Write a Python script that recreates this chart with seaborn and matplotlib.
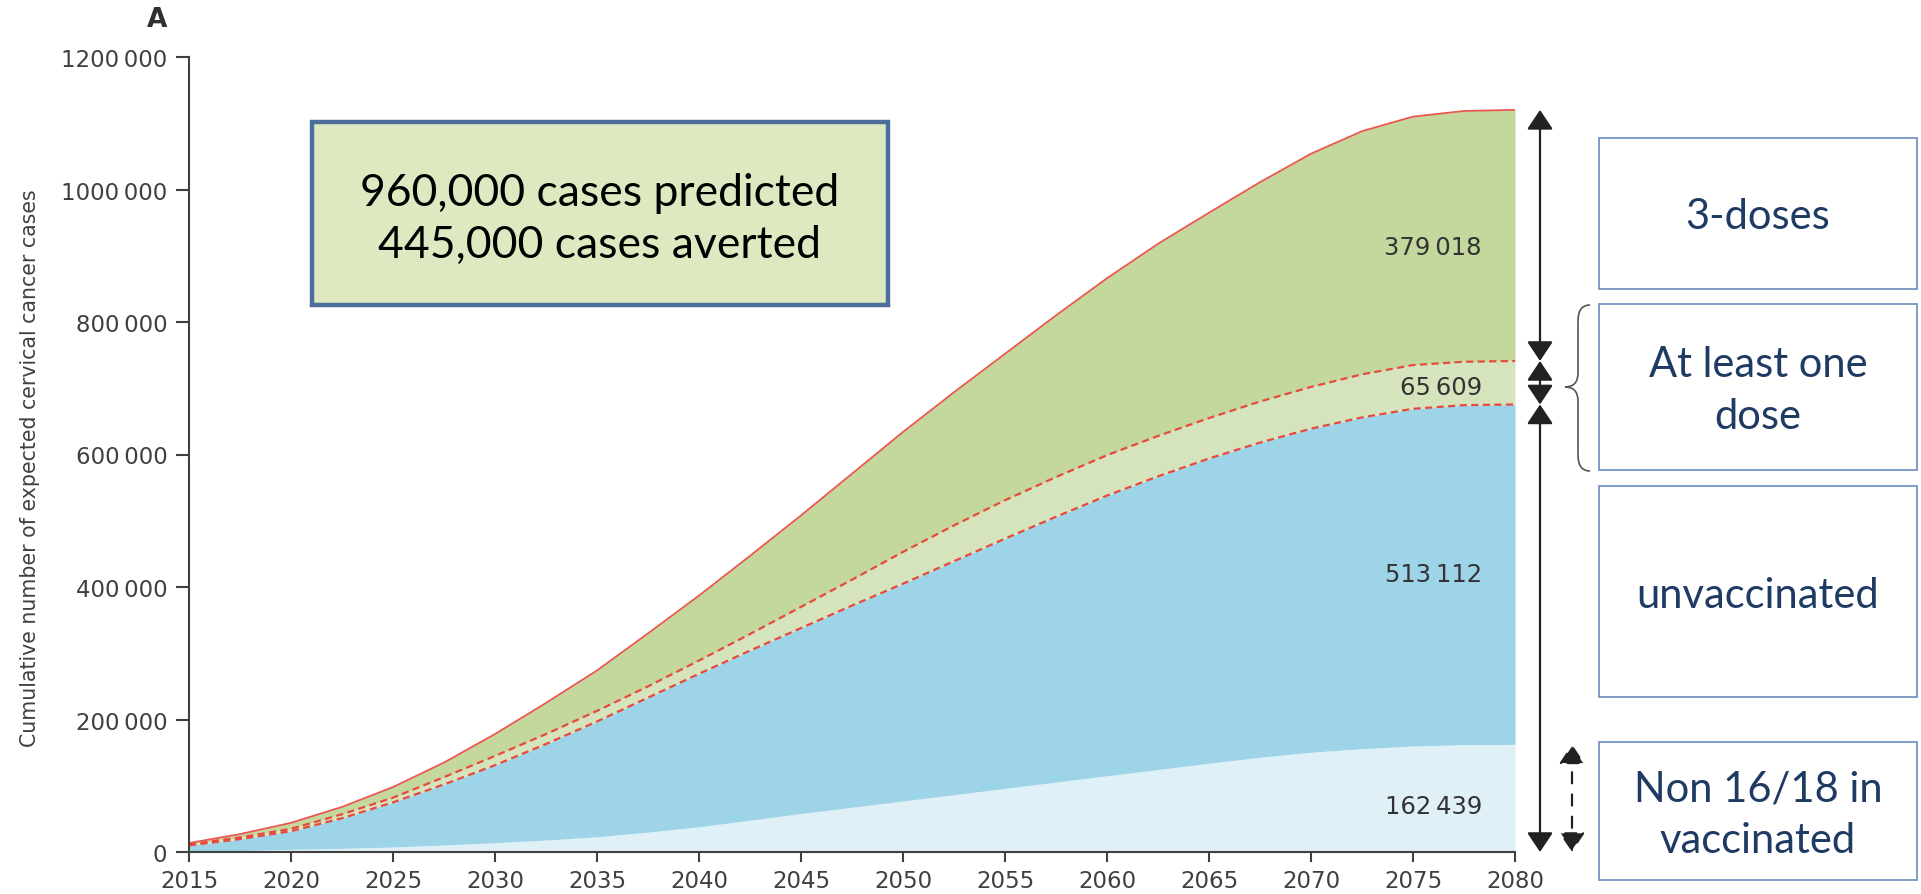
import numpy as np
import pandas as pd
import matplotlib
matplotlib.use("Agg")
import matplotlib.pyplot as plt
import seaborn as sns
from matplotlib.patches import Rectangle, PathPatch
from matplotlib.path import Path

# ---------------- data (cumulative boundaries) ----------------
years = [2015, 2017.5, 2020, 2022.5, 2025, 2027.5, 2030, 2032.5, 2035, 2037.5, 2040, 2042.5, 2045,
         2047.5, 2050, 2052.5, 2055, 2057.5, 2060, 2062.5, 2065, 2067.5, 2070, 2072.5, 2075, 2077.5, 2080]
cum_non1618 = [500, 2000, 4000, 5500, 7500, 10500, 14000, 18000, 23000, 30000, 38000, 48000, 58000,
               67500, 77000, 86500, 96000, 105500, 115000, 124500, 134000, 143000, 150500, 156000, 160000,
               162000, 162439]
cum_unvacc = [10000, 19500, 31500, 51000, 75000, 102000, 131000, 163000, 197000, 233000, 269000, 304000,
              338000, 372000, 405000, 439000, 473000, 506000, 538000, 567000, 594000, 618000, 639000,
              656000, 669000, 674500, 675551]
cum_one_dose = [11500, 22000, 35000, 57000, 82000, 113000, 145000, 178000, 213000, 250000, 289000, 329000,
                370000, 411000, 453000, 493000, 531000, 566000, 599000, 628000, 655000, 680000, 702000,
                721000, 735000, 740000, 741160]
cum_three_doses = [13500, 27000, 44000, 68000, 98000, 135000, 178000, 225000, 274000, 330000, 387000,
                   447000, 508000, 571000, 634000, 694000, 752000, 810000, 866000, 918000, 965000, 1011000,
                   1054000, 1088000, 1110000, 1118500, 1120178]
layer_labels = ["162\u2009439", "513\u2009112", "65\u2009609", "379\u2009018"]
ytick_vals = [0, 200000, 400000, 600000, 800000, 1000000, 1200000]
ytick_labels = ["0", "200\u2009000", "400\u2009000", "600\u2009000", "800\u2009000", "1000\u2009000", "1200\u2009000"]
xtick_vals = list(range(2015, 2081, 5))
box_text = "960,000 cases predicted\n445,000 cases averted"
side_labels = ["3-doses", "At least one\ndose", "unvaccinated", "Non 16/18 in\nvaccinated"]
ylabel = "Cumulative number of expected cervical cancer cases"

# ---------------- style ----------------
sns.set_theme(style="white")
plt.rcParams["font.family"] = ["DejaVu Sans"]

W, H = 1921, 895
fig = plt.figure(figsize=(W / 100, H / 100), dpi=100)
ax = fig.add_axes([189 / W, 1 - 853 / H, (1515 - 189) / W, (853 - 58) / H])

df = pd.DataFrame({"year": years, "c1": cum_non1618, "c2": cum_unvacc,
                   "c3": cum_one_dose, "c4": cum_three_doses})

c_lblue = "#E0F0F7"
c_blue = "#9DD4E8"
c_lgreen = "#D6E4BD"
c_green = "#C4D89E"
c_red = "#E8493F"

ax.fill_between(df["year"], 0, df["c1"], color=c_lblue, lw=0)
ax.fill_between(df["year"], df["c1"], df["c2"], color=c_blue, lw=0)
ax.fill_between(df["year"], df["c2"], df["c3"], color=c_lgreen, lw=0)
ax.fill_between(df["year"], df["c3"], df["c4"], color=c_green, lw=0)

sns.lineplot(data=df, x="year", y="c4", ax=ax, color="#E9574E", lw=1.3)
sns.lineplot(data=df, x="year", y="c3", ax=ax, color=c_red, lw=1.6, linestyle=(0, (3.2, 2.0)))
sns.lineplot(data=df, x="year", y="c2", ax=ax, color=c_red, lw=1.6, linestyle=(0, (3.2, 2.0)))

ax.set_xlim(2015, 2080)
ax.set_ylim(0, 1200000)
ax.set_xticks(xtick_vals)
ax.set_xticklabels([str(v) for v in xtick_vals])
ax.set_yticks(ytick_vals)
ax.set_yticklabels(ytick_labels)
ax.set_xlabel("")
ax.set_ylabel("")
for s in ["top", "right"]:
    ax.spines[s].set_visible(False)
for s in ["left", "bottom"]:
    ax.spines[s].set_color("#404040")
    ax.spines[s].set_linewidth(1.5)
ax.tick_params(axis="y", direction="out", length=9.5, width=1.5, color="#404040",
               labelsize=16.5, labelcolor="#404040", pad=6, left=True)
ax.tick_params(axis="x", direction="out", length=7, width=1.5, color="#404040",
               labelsize=16.5, labelcolor="#404040", pad=5, bottom=True)
ax.patch.set_alpha(0)

fig.text(30 / W, 1 - 468 / H, ylabel, rotation=90, ha="center", va="center",
         fontsize=14.8, color="#404040")
fig.text(157 / W, 1 - 20 / H, "A", ha="center", va="center", fontsize=19,
         fontweight="bold", color="#303030")

# layer value labels at the right end
ypix = [807, 575, 388, 248]
for lab, yp in zip(layer_labels, ypix):
    fig.text(1482 / W, 1 - yp / H, lab, ha="right", va="center", fontsize=17.5, color="#333333")

# summary box
fig.add_artist(Rectangle((312 / W, 1 - 306 / H), (888 - 312) / W, (306 - 123) / H,
                         transform=fig.transFigure, facecolor="#DDE9C0", edgecolor="#4A6F9A", lw=3.2))
fig.text(600 / W, 1 - 219 / H, box_text, ha="center", va="center", fontsize=32,
         family=["Lato", "DejaVu Sans"], color="black", linespacing=1.33)

# side boxes
boxes = [(139, 290), (305, 471), (487, 698), (743, 881)]
for (y0, y1), lab in zip(boxes, side_labels):
    fig.add_artist(Rectangle((1599 / W, 1 - y1 / H), (1917 - 1599) / W, (y1 - y0) / H,
                             transform=fig.transFigure, facecolor="white", edgecolor="#6A8CBF", lw=1.2))
    fig.text(1758 / W, 1 - ((y0 + y1) / 2 + 3) / H, lab, ha="center", va="center", fontsize=30,
             family=["Lato", "DejaVu Sans"], color="#1F3B63", linespacing=1.45)

# arrows spanning layers at 2080
ends = [0, df["c2"].iloc[-1], df["c3"].iloc[-1], df["c4"].iloc[-1]]
aprops = dict(arrowstyle="<|-|>,head_length=0.6,head_width=0.4", color="#222222", lw=1.6,
              shrinkA=0, shrinkB=0, mutation_scale=20)
for a, b in zip(ends[:-1], ends[1:]):
    ax.annotate("", xy=(1540, b), xytext=(1540, a), xycoords=("figure pixels", "data"),
                textcoords=("figure pixels", "data"), arrowprops=aprops, annotation_clip=False)
dprops = dict(aprops)
dprops["linestyle"] = (0, (5, 5))
ax.annotate("", xy=(1572, df["c1"].iloc[-1]), xytext=(1572, 0), xycoords=("figure pixels", "data"),
            textcoords=("figure pixels", "data"), arrowprops=dprops, annotation_clip=False)

# curly brace
def fp(x, y):
    return (x / W, 1 - y / H)
verts = [fp(1590, 306), fp(1578, 306), fp(1578, 322), fp(1578, 374), fp(1578, 388), fp(1565, 388),
         fp(1578, 388), fp(1578, 402), fp(1578, 456), fp(1578, 472), fp(1590, 472)]
codes = [Path.MOVETO, Path.CURVE3, Path.CURVE3, Path.LINETO, Path.CURVE3, Path.CURVE3,
         Path.CURVE3, Path.CURVE3, Path.LINETO, Path.CURVE3, Path.CURVE3]
fig.add_artist(PathPatch(Path(verts, codes), transform=fig.transFigure, fill=False,
                         edgecolor="#555555", lw=1.2))

fig.savefig("out.png", dpi=100)
